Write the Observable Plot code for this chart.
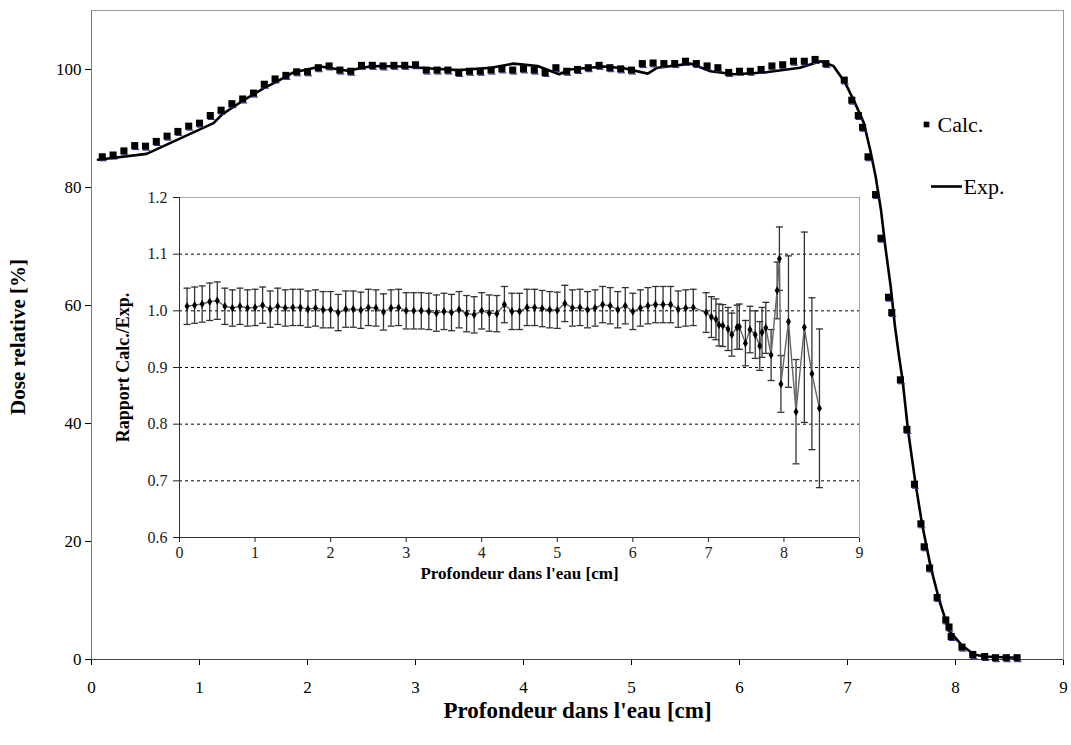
<!DOCTYPE html>
<html><head><meta charset="utf-8">
<script src="https://cdn.jsdelivr.net/npm/d3@7"></script>
<script src="https://cdn.jsdelivr.net/npm/@observablehq/plot@0.6"></script>
<style>
body{margin:0;background:white}
#wrap{position:relative;width:1071px;height:745px;overflow:hidden}
</style>
</head><body><div id="wrap"></div>
<script>
// ---- Main chart: depth-dose (Calc. points, Exp. line) ----
const calcX = [0.1,0.2,0.3,0.4,0.5,0.6,0.7,0.8,0.9,1.0,1.1,1.2,1.3,1.4,1.5,1.6,1.7,1.8,1.9,2.0,
  2.1,2.2,2.3,2.4,2.5,2.6,2.7,2.8,2.9,3.0,3.1,3.2,3.3,3.4,3.5,3.6,3.7,3.8,3.9,4.0,
  4.1,4.2,4.3,4.4,4.5,4.6,4.7,4.8,4.9,5.0,5.1,5.2,5.3,5.4,5.5,5.6,5.7,5.8,5.9,6.0,
  6.1,6.2,6.3,6.4,6.5,6.6,6.7,6.8,
  6.97,7.04,7.10,7.14,7.19,7.26,7.31,7.38,7.41,7.49,7.55,7.62,7.68,7.71,7.76,7.83,
  7.91,7.94,7.96,8.06,8.16,8.27,8.37,8.47,8.57];
const calcY = [85.2,85.5,86.2,87.1,87.0,87.8,88.7,89.5,90.4,90.9,92.2,93.1,94.2,95.0,96.0,97.5,98.4,99.0,99.6,99.6,
  100.3,100.6,99.9,99.7,100.7,100.7,100.6,100.7,100.7,100.8,99.9,99.9,99.9,99.5,99.7,99.7,99.9,100.1,99.9,100.1,
  99.9,99.5,100.3,99.7,100.0,100.3,100.7,100.3,100.1,99.9,101.0,101.1,101.0,101.0,101.4,101.0,100.6,100.3,99.5,99.7,
  99.7,100.0,100.6,100.8,101.4,101.4,101.7,101.0,
  98.2,94.8,92.2,90.2,85.2,78.8,71.4,61.4,58.8,47.4,39.0,29.7,23.0,19.1,15.5,10.5,
  6.7,5.5,3.9,2.1,0.85,0.5,0.3,0.3,0.3];

const expX = [0.06,0.51,1.13,1.21,1.40,1.60,1.72,1.87,2.12,2.37,2.60,2.90,3.10,3.40,3.70,3.91,4.13,4.33,4.43,4.74,
  4.93,5.15,5.24,5.55,5.73,5.95,6.23,6.56,6.75,6.87,6.98,7.07,7.15,7.21,7.26,7.31,7.35,7.40,7.44,7.48,
  7.51,7.56,7.63,7.69,7.77,7.85,7.94,8.06,8.17,8.27,8.57];
const expY = [84.7,85.7,90.9,92.4,94.7,96.9,98.0,99.5,100.5,99.8,100.6,100.5,100.2,99.9,100.3,101.0,100.6,99.2,100.0,100.5,
  100.2,99.3,100.3,101.0,99.7,99.2,99.5,100.3,101.4,100.6,97.7,94.3,91.0,86.4,81.9,76.2,70.0,63.2,56.4,51.0,
  47.4,38.9,29.8,23.0,15.7,10.0,4.9,2.4,0.85,0.5,0.3];

const mainXTicks = [0,1,2,3,4,5,6,7,8,9];
const mainYTicks = [0,20,40,60,80,100];

// ---- Inset: ratio Calc./Exp. with error bars ----
const ratioY = [1.008,1.010,1.012,1.016,1.018,1.008,1.005,1.008,1.005,1.006,1.010,1.003,1.008,1.005,1.006,1.006,1.003,1.005,1.002,1.002,
  0.997,1.003,1.003,1.001,1.006,1.005,0.998,1.005,1.006,1.000,1.000,1.000,0.999,0.996,0.999,0.997,1.002,0.995,0.993,1.000,
  0.996,0.995,1.011,0.999,0.999,1.006,1.006,1.004,1.002,1.001,1.013,1.005,1.006,1.002,1.005,1.011,1.009,1.002,1.009,0.999,
  1.005,1.009,1.011,1.011,1.011,1.003,1.005,1.006,
  0.997,0.989,0.985,0.975,0.974,0.968,0.958,0.971,0.972,0.943,0.967,0.958,0.938,0.962,0.970,0.922,
  1.036,1.092,0.871,0.981,0.822,0.971,0.889,0.828];
const ratioErr = [0.032,0.032,0.032,0.033,0.033,0.032,0.032,0.032,0.032,0.032,0.032,0.032,0.032,0.032,0.032,0.032,0.032,0.032,0.032,0.032,
  0.032,0.032,0.032,0.032,0.032,0.032,0.032,0.032,0.032,0.032,0.032,0.032,0.032,0.032,0.032,0.032,0.032,0.032,0.032,0.032,
  0.032,0.032,0.032,0.032,0.032,0.032,0.032,0.032,0.032,0.032,0.032,0.032,0.032,0.032,0.032,0.032,0.032,0.032,0.032,0.032,
  0.032,0.032,0.032,0.032,0.032,0.032,0.032,0.032,
  0.035,0.036,0.036,0.037,0.037,0.038,0.038,0.039,0.040,0.040,0.041,0.042,0.043,0.044,0.045,0.045,
  0.050,0.056,0.050,0.116,0.092,0.168,0.134,0.140];
const insetXTicks = [0,1,2,3,4,5,6,7,8,9];
const insetYTicks = [0.6,0.7,0.8,0.9,1.0,1.1,1.2];
const insetGrid = [0.7,0.8,0.9,1.0,1.1];

const calc = calcX.map((x, i) => ({x, y: calcY[i]}));
const exp = expX.map((x, i) => ({x, y: expY[i]}));
const ratio = ratioY.map((y, i) => ({x: calcX[i], y, lo: y - ratioErr[i], hi: y + ratioErr[i]}));

const hline = (w) => ({draw(ctx) { ctx.moveTo(-w, 0); ctx.lineTo(w, 0); }});
const serif = "'Liberation Serif', 'Times New Roman', serif";

const main = Plot.plot({
  width: 1071, height: 745,
  marginLeft: 91, marginRight: 8, marginTop: 10, marginBottom: 86,
  style: {fontFamily: serif, fontSize: "17px", background: "white", color: "black", overflow: "visible"},
  x: {domain: [0, 9], ticks: mainXTicks, tickSize: 6, tickPadding: 15, tickFormat: d => String(d), label: null},
  y: {domain: [0, 110], ticks: mainYTicks, tickSize: 6, tickPadding: 4, tickFormat: d => String(d), label: null},
  marks: [
    Plot.frame({stroke: "#9a9a9a"}),
    Plot.ruleX([0], {stroke: "#777"}),
    Plot.ruleY([0], {stroke: "#444"}),
    Plot.line(exp, {x: "x", y: "y", stroke: "black", strokeWidth: 2.6}),
    Plot.dot(calc, {x: "x", y: "y", symbol: hline(3.5), fill: "none", stroke: "#2b2b9a", strokeWidth: 1, dx: 1, dy: 4}),
    Plot.dot(calc, {x: "x", y: "y", symbol: "square", r: 4, fill: "black"}),
    // legend
    Plot.dot([0], {frameAnchor: "top-left", dx: 835, dy: 114, symbol: "square", r: 3.2, fill: "black"}),
    Plot.text(["Calc."], {frameAnchor: "top-left", dx: 846, dy: 114, textAnchor: "start", lineAnchor: "middle", fontSize: 22, fill: "black"}),
    Plot.dot([0], {frameAnchor: "top-left", dx: 855, dy: 176, symbol: hline(15.5), fill: "none", stroke: "black", strokeWidth: 2.6}),
    Plot.text(["Exp."], {frameAnchor: "top-left", dx: 872, dy: 176, textAnchor: "start", lineAnchor: "middle", fontSize: 22, fill: "black"}),
    // axis titles
    Plot.text(["Dose relative [%]"], {frameAnchor: "left", textAnchor: "middle", dx: -73, dy: 2, rotate: -90, fontSize: 21, fontWeight: "bold", fill: "black"}),
    Plot.text(["Profondeur dans l'eau [cm]"], {frameAnchor: "bottom", textAnchor: "middle", dy: 58, fontSize: 23, fontWeight: "bold", fill: "black"})
  ]
});

const inset = Plot.plot({
  width: 770, height: 400,
  marginLeft: 80, marginRight: 10, marginTop: 10, marginBottom: 50,
  style: {fontFamily: serif, fontSize: "16px", background: "transparent", color: "#222",
          position: "absolute", left: "99px", top: "187px", overflow: "visible"},
  x: {domain: [0, 9], ticks: insetXTicks, tickSize: 5, tickPadding: 4, tickFormat: d => String(d), label: null},
  y: {domain: [0.6, 1.2], ticks: insetYTicks, tickSize: 6, tickPadding: 6, tickFormat: d3.format(".1f"), label: null},
  marks: [
    Plot.ruleY(insetGrid, {stroke: "black", strokeDasharray: "3,3", strokeWidth: 1}),
    Plot.frame({stroke: "#aaa"}),
    Plot.ruleX([0], {stroke: "#333"}),
    Plot.ruleY([0.6], {stroke: "#333"}),
    Plot.ruleX(ratio, {x: "x", y1: "lo", y2: "hi", stroke: "#333", strokeWidth: 1.3}),
    Plot.dot(ratio, {x: "x", y: "lo", symbol: hline(3.5), fill: "none", stroke: "#333", strokeWidth: 1.3}),
    Plot.dot(ratio, {x: "x", y: "hi", symbol: hline(3.5), fill: "none", stroke: "#333", strokeWidth: 1.3}),
    Plot.line(ratio, {x: "x", y: "y", stroke: "#666", strokeWidth: 1.4}),
    Plot.dot(ratio, {x: "x", y: "y", symbol: "diamond", r: 2.6, fill: "black"}),
    Plot.text(["Rapport Calc./Exp."], {frameAnchor: "left", textAnchor: "middle", dx: -56, rotate: -90, fontSize: 18, fontWeight: "bold", fill: "black"}),
    Plot.text(["Profondeur dans l'eau [cm]"], {frameAnchor: "bottom", textAnchor: "middle", dy: 41, fontSize: 17, fontWeight: "bold", fill: "black"})
  ]
});

const wrap = document.getElementById("wrap");
wrap.appendChild(main);
wrap.appendChild(inset);
</script>
</body></html>
